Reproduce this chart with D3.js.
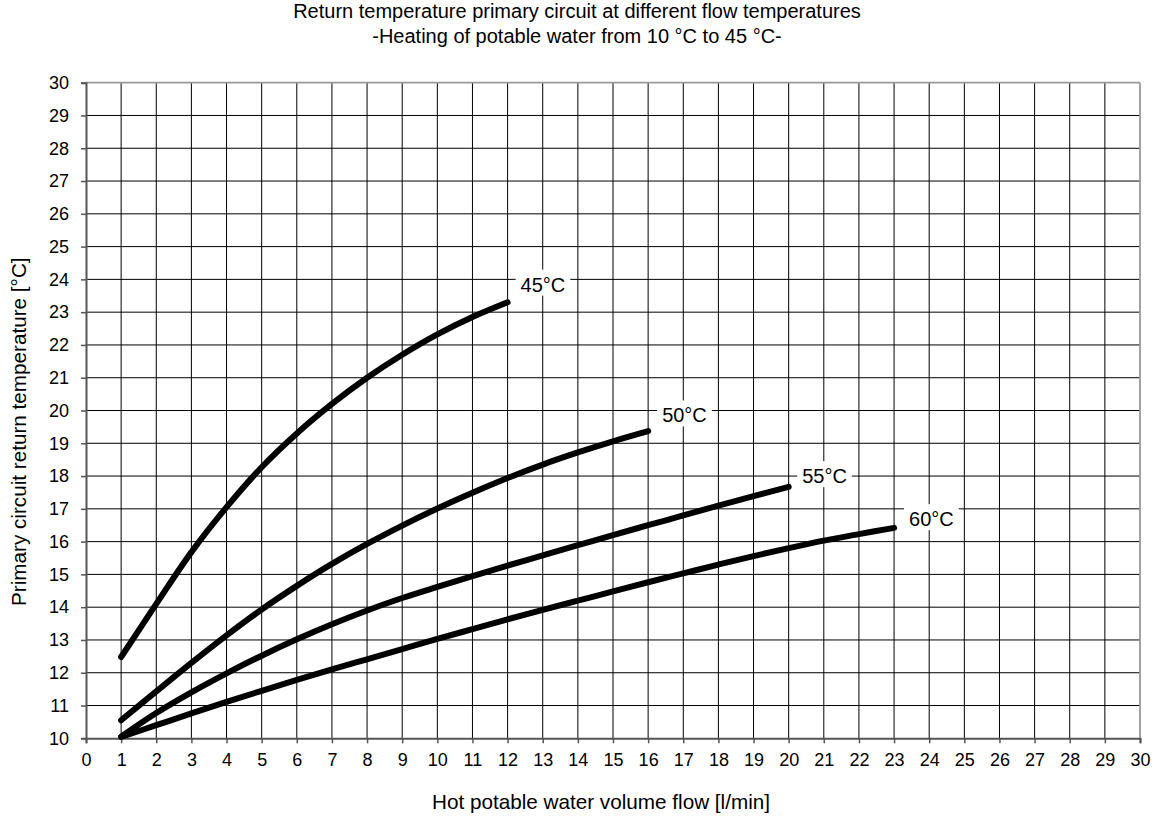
<!DOCTYPE html>
<html>
<head>
<meta charset="utf-8">
<script src="https://cdn.jsdelivr.net/npm/d3@7"></script>
<style>
  html, body { margin: 0; padding: 0; background: #fff; }
  svg { display: block; font-family: "Liberation Sans", Arial, sans-serif; }
</style>
</head>
<body>
<svg id="chart" width="1155" height="816"></svg>
<script>
// ---- data ----
const titleLines = ["Return temperature primary circuit at different flow temperatures",
                    "-Heating of potable water from 10 °C to 45 °C-"];
const xAxisTitle = "Hot potable water volume flow [l/min]";
const yAxisTitle = "Primary circuit return temperature [°C]";
const xTicks = d3.range(0, 31);
const yTicks = d3.range(10, 31);
const seriesNames = ["45°C", "50°C", "55°C", "60°C"];
const flow45 = [1,2,3,4,5,6,7,8,9,10,11,12];
const ret45  = [12.48,14.1,15.68,17.05,18.27,19.3,20.2,21.0,21.7,22.32,22.85,23.3];
const flow50 = [1,2,3,4,5,6,7,8,9,10,11,12,13,14,15,16];
const ret50  = [10.55,11.43,12.3,13.14,13.93,14.65,15.32,15.93,16.49,17.01,17.49,17.94,18.35,18.72,19.06,19.37];
const flow55 = [1,2,3,4,5,6,7,8,9,10,11,12,13,14,15,16,17,18,19,20];
const ret55  = [10.05,10.77,11.4,11.98,12.52,13.02,13.48,13.9,14.28,14.62,14.95,15.27,15.58,15.89,16.2,16.5,16.8,17.1,17.39,17.67];
const flow60 = [1,2,3,4,5,6,7,8,9,10,11,12,13,14,15,16,17,18,19,20,21,22,23];
const ret60  = [10.04,10.4,10.76,11.11,11.45,11.78,12.1,12.41,12.72,13.03,13.33,13.63,13.92,14.2,14.48,14.76,15.03,15.3,15.56,15.8,16.03,16.23,16.42];

// ---- style (label placement relative to line end, px) ----
const labelOffsets = [[13, -18], [14, -16], [13.5, -11], [15, -9]];

const flows = [flow45, flow50, flow55, flow60];
const rets = [ret45, ret50, ret55, ret60];
const series = seriesNames.map((name, i) => ({
  name, points: flows[i].map((f, j) => [f, rets[i][j]])
}));

const svg = d3.select("#chart");
const L = 86, R = 1140, T = 82.7, B = 738.3;
const x = d3.scaleLinear().domain([0, 30]).range([L, R]);
const y = d3.scaleLinear().domain([10, 30]).range([B, T]);

// title
svg.append("g").selectAll("text").data(titleLines).join("text")
  .attr("x", 577).attr("y", (d, i) => 18.3 + i * 25)
  .attr("text-anchor", "middle").attr("font-size", 20).attr("fill", "#000")
  .text(d => d);

// grid
const grid = svg.append("g");
grid.selectAll("line.v").data(xTicks.slice(1, -1)).join("line")
  .attr("x1", d => x(d)).attr("x2", d => x(d)).attr("y1", T).attr("y2", B)
  .attr("stroke", "#000").attr("stroke-width", 1);
grid.selectAll("line.h").data(yTicks.slice(1, -1)).join("line")
  .attr("x1", L).attr("x2", R).attr("y1", d => y(d)).attr("y2", d => y(d))
  .attr("stroke", "#000").attr("stroke-width", 1);

// frame (top / right)
svg.append("line").attr("x1", L).attr("x2", R).attr("y1", T).attr("y2", T)
  .attr("stroke", "#999").attr("stroke-width", 1.8);
svg.append("line").attr("x1", R).attr("x2", R).attr("y1", T).attr("y2", B)
  .attr("stroke", "#999").attr("stroke-width", 1.8);

// axes
const xAxis = svg.append("g").attr("transform", `translate(0,${B})`)
  .call(d3.axisBottom(x).tickValues(xTicks).tickFormat(d3.format("d")).tickSize(5).tickPadding(10));
const yAxis = svg.append("g").attr("transform", `translate(${L},0)`)
  .call(d3.axisLeft(y).tickValues(yTicks).tickFormat(d3.format("d")).tickSize(5).tickPadding(12));
[xAxis, yAxis].forEach(g => {
  g.select(".domain").attr("stroke", "#555").attr("stroke-width", 2);
  g.selectAll(".tick line").attr("stroke", "#555").attr("stroke-width", 1.5);
  g.selectAll(".tick text").attr("font-size", 18).attr("fill", "#000")
    .attr("font-family", "Liberation Sans, Arial, sans-serif");
});

// axis titles
svg.append("text").attr("x", 601).attr("y", 809.3).attr("text-anchor", "middle")
  .attr("font-size", 20.7).attr("fill", "#000").text(xAxisTitle);
svg.append("text").attr("transform", "translate(26,431.7) rotate(-90)")
  .attr("text-anchor", "middle").attr("font-size", 20.7).attr("fill", "#000").text(yAxisTitle);

// curves
const line = d3.line().x(d => x(d[0])).y(d => y(d[1])).curve(d3.curveCatmullRom.alpha(0.5));
svg.append("g").selectAll("path").data(series).join("path")
  .attr("d", d => line(d.points))
  .attr("fill", "none").attr("stroke", "#000").attr("stroke-width", 6)
  .attr("stroke-linecap", "round").attr("stroke-linejoin", "round");

// labels with white boxes
const lg = svg.append("g");
series.forEach((s, i) => {
  const last = s.points[s.points.length - 1];
  const tx = x(last[0]) + labelOffsets[i][0];
  const cy = y(last[1]) + labelOffsets[i][1];
  const g = lg.append("g");
  const rect = g.append("rect").attr("fill", "#fff");
  const t = g.append("text").attr("x", tx).attr("y", cy + 7.3)
    .attr("font-size", 20).attr("fill", "#000").text(s.name);
  const bb = t.node().getBBox();
  rect.attr("x", bb.x - 5).attr("y", bb.y - 4).attr("width", bb.width + 10).attr("height", bb.height + 4);
});
</script>
</body>
</html>
